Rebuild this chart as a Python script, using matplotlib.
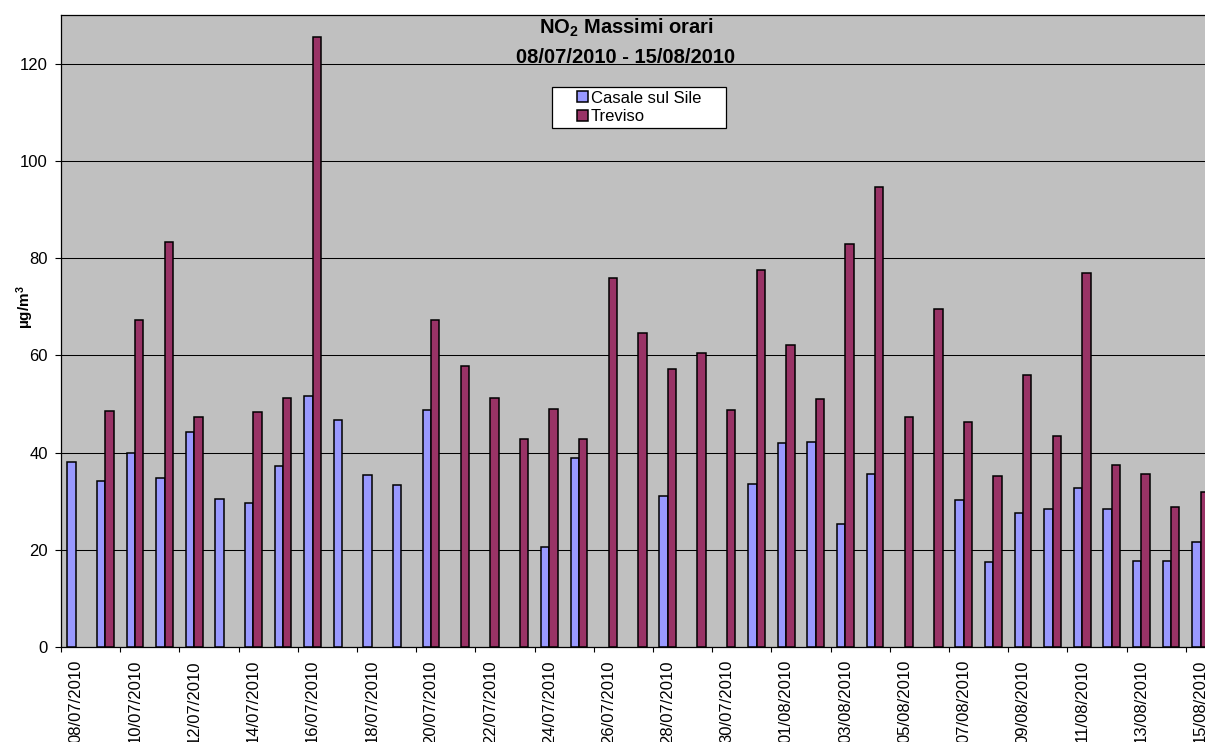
import numpy as np
import pandas as pd
import matplotlib
matplotlib.use("Agg")
import matplotlib.pyplot as plt
from matplotlib.patches import Rectangle

plt.rcParams["font.family"] = ["Liberation Sans", "DejaVu Sans"]
plt.rcParams["mathtext.default"] = "regular"

# giorni dal 08/07/2010 al 15/08/2010
giorni = pd.date_range("2010-07-08", "2010-08-15").strftime("%d/%m/%Y").tolist()

nan = np.nan
casale = [38.0, 34.2, 39.9, 34.8, 44.3, 30.5, 29.6, 37.3, 51.7, 46.7,
          35.3, 33.3, 48.7, nan, nan, nan, 20.6, 38.8, nan, nan,
          31.1, nan, nan, 33.6, 42.0, 42.1, 25.2, 35.6, nan, nan,
          30.2, 17.5, 27.5, 28.4, 32.7, 28.4, 17.7, 17.7, 21.6]
treviso = [nan, 48.6, 67.2, 83.4, 47.3, nan, 48.3, 51.3, 125.4, nan,
           nan, nan, 67.2, 57.9, 51.2, 42.8, 49.0, 42.8, 76.0, 64.5,
           57.1, 60.5, 48.8, 77.5, 62.2, 51.1, 82.8, 94.6, 47.3, 69.6,
           46.3, 35.2, 56.0, 43.4, 77.0, 37.4, 35.6, 28.7, 31.9]

W, H = 1205, 742
fig = plt.figure(figsize=(W / 100, H / 100), dpi=100)
# l'area del grafico prosegue oltre il bordo destro
ax = fig.add_axes([61 / W, 1 - 647 / H, 1154.4 / W, 632 / H])
ax.set_facecolor("#C0C0C0")

x = np.arange(len(giorni))
bw = 1 / 3.5
b1 = ax.bar(x - bw / 2, casale, bw, color="#9999FF", edgecolor="black",
            linewidth=1.1, label="Casale sul Sile", zorder=3)
b2 = ax.bar(x + bw / 2, treviso, bw, color="#993366", edgecolor="black",
            linewidth=1.1, label="Treviso", zorder=3)

ax.set_xlim(-0.5, len(giorni) - 0.5)
ax.set_ylim(0, 130)
ax.set_yticks(np.arange(0, 121, 20))
ax.yaxis.grid(True, color="black", linewidth=0.75, zorder=1)
ax.tick_params(axis="y", direction="out", length=4.3, width=0.8, pad=5.3,
               labelsize=12)

# etichette ogni due giorni, tacche sui bordi delle categorie
ax.set_xticks(x[::2])
ax.set_xticklabels(giorni[::2], rotation=90, va="top", ha="center")
ax.tick_params(axis="x", which="major", length=0, pad=9.4, labelsize=12)
ax.set_xticks(np.arange(-0.5, len(giorni), 2), minor=True)
ax.tick_params(axis="x", which="minor", direction="out", length=3.6, width=0.8)

for s in ax.spines.values():
    s.set_color("black")
    s.set_linewidth(0.9)

fig.text(25 / W, 1 - 307 / H, r"µg/m$^3$", rotation=90, ha="center",
         va="center", fontsize=11, fontweight="bold")

fig.text(626 / W, 1 - 34 / H, r"NO$_2$ Massimi orari", ha="center",
         va="baseline", fontsize=14.5, fontweight="bold")
fig.text(626 / W, 1 - 63 / H, "08/07/2010 - 15/08/2010", ha="center",
         va="baseline", fontsize=14.5, fontweight="bold")

# riquadro della legenda
lx0, ly0, lx1, ly1 = 552, 87, 726, 128
fig.patches.append(Rectangle((lx0 / W, 1 - ly1 / H), (lx1 - lx0) / W,
                             (ly1 - ly0) / H, transform=fig.transFigure,
                             facecolor="white", edgecolor="black",
                             linewidth=0.9, zorder=4))
fig.legend(handles=[b1, b2], loc="center",
           bbox_to_anchor=((lx0 + lx1) / 2 / W, 1 - (ly0 + ly1) / 2 / H),
           frameon=False, fontsize=12, handlelength=0.66, handleheight=0.6,
           handletextpad=0.2, labelspacing=0.22, borderpad=0.2)

fig.savefig("out.png", dpi=100)
